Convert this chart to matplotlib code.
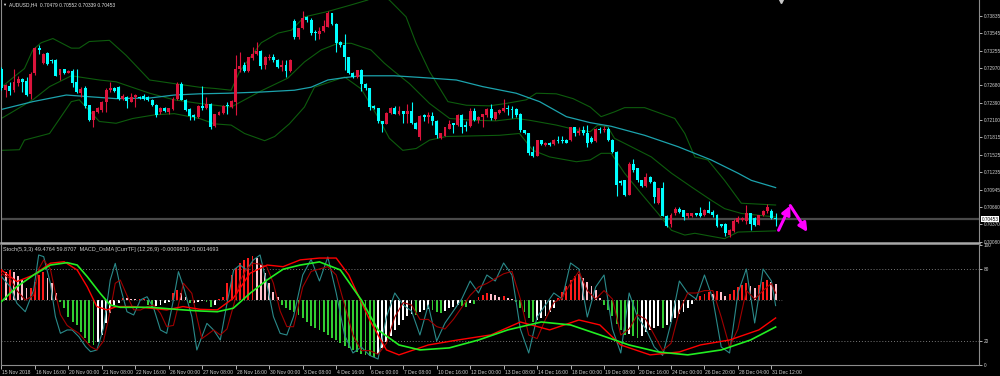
import numpy as np
import matplotlib.pyplot as plt
import matplotlib.transforms as mtransforms

plt.rcParams['font.family'] = ['Liberation Sans', 'DejaVu Sans']

# AUDUSD H4 candles, prices in units of 0.0001
opens = [7296, 7260, 7267, 7261, 7272, 7278, 7275, 7254, 7288, 7330,
         7305, 7322, 7310, 7310, 7285, 7295, 7289, 7292, 7274, 7255,
         7263, 7235, 7210, 7224, 7227, 7241, 7260, 7263, 7265, 7245,
         7249, 7241, 7248, 7249, 7251, 7248, 7244, 7236, 7223, 7230,
         7223, 7229, 7245, 7271, 7244, 7229, 7219, 7215, 7234, 7230,
         7237, 7200, 7219, 7222, 7235, 7232, 7241, 7295, 7302, 7292,
         7313, 7320, 7325, 7302, 7313, 7316, 7311, 7299, 7302, 7292,
         7375, 7348, 7363, 7382, 7377, 7356, 7353, 7358, 7366, 7388,
         7370, 7340, 7335, 7315, 7289, 7282, 7293, 7271, 7263, 7234,
         7230, 7208, 7204, 7222, 7231, 7221, 7225, 7221, 7225, 7206,
         7182, 7219, 7215, 7217, 7209, 7180, 7184, 7196, 7205, 7202,
         7219, 7202, 7200, 7226, 7210, 7215, 7219, 7228, 7212, 7222,
         7226, 7231, 7229, 7228, 7221, 7193, 7188, 7158, 7151, 7177,
         7169, 7173, 7170, 7178, 7178, 7178, 7177, 7198, 7188, 7193,
         7189, 7180, 7175, 7196, 7193, 7196, 7178, 7158, 7109, 7110,
         7086, 7138, 7130, 7110, 7100, 7116, 7108, 7073, 7097, 7051,
         7037, 7055, 7062, 7060, 7050, 7050, 7055, 7055, 7052, 7060,
         7058, 7053, 7037, 7038, 7019, 7026, 7041, 7044, 7043, 7055,
         7048, 7036, 7052, 7059, 7059, 7047.9]
highs = [7299, 7271, 7274, 7296, 7284, 7280, 7282, 7291, 7332, 7335,
         7322, 7324, 7312, 7312, 7296, 7296, 7293, 7296, 7296, 7266,
         7267, 7236, 7226, 7232, 7242, 7263, 7274, 7265, 7267, 7254,
         7250, 7256, 7254, 7251, 7253, 7250, 7245, 7237, 7232, 7232,
         7231, 7248, 7273, 7273, 7245, 7230, 7221, 7236, 7267, 7249,
         7238, 7221, 7225, 7235, 7241, 7244, 7318, 7324, 7307, 7316,
         7332, 7341, 7327, 7317, 7320, 7321, 7312, 7310, 7310, 7312,
         7378, 7364, 7391, 7383, 7380, 7360, 7366, 7376, 7391, 7389,
         7372, 7342, 7353, 7316, 7290, 7294, 7296, 7272, 7264, 7235,
         7231, 7209, 7223, 7232, 7233, 7234, 7226, 7237, 7241, 7207,
         7218, 7221, 7224, 7224, 7210, 7189, 7199, 7210, 7206, 7220,
         7220, 7208, 7230, 7230, 7217, 7221, 7230, 7237, 7224, 7228,
         7245, 7235, 7234, 7231, 7222, 7194, 7189, 7167, 7178, 7178,
         7174, 7174, 7179, 7183, 7184, 7179, 7199, 7199, 7199, 7200,
         7202, 7183, 7197, 7199, 7200, 7198, 7179, 7159, 7111, 7111,
         7140, 7146, 7131, 7111, 7122, 7117, 7109, 7098, 7108, 7052,
         7055, 7066, 7066, 7061, 7056, 7056, 7056, 7066, 7063, 7076,
         7060, 7054, 7038, 7039, 7029, 7045, 7051, 7049, 7069, 7056,
         7049, 7053, 7060, 7070, 7062, 7055.2]
lows = [7261, 7249, 7252, 7257, 7267, 7257, 7250, 7246, 7285, 7321,
        7303, 7302, 7306, 7283, 7277, 7287, 7288, 7266, 7256, 7249,
        7231, 7208, 7199, 7222, 7224, 7224, 7257, 7257, 7244, 7244,
        7231, 7240, 7232, 7245, 7243, 7242, 7233, 7216, 7221, 7224,
        7221, 7227, 7244, 7243, 7226, 7210, 7210, 7213, 7227, 7229,
        7196, 7199, 7218, 7221, 7221, 7230, 7219, 7291, 7291, 7290,
        7311, 7318, 7296, 7296, 7311, 7307, 7297, 7292, 7282, 7291,
        7346, 7346, 7362, 7374, 7352, 7343, 7346, 7357, 7365, 7368,
        7324, 7332, 7294, 7287, 7281, 7281, 7259, 7260, 7227, 7229,
        7206, 7191, 7203, 7221, 7220, 7219, 7205, 7205, 7204, 7195,
        7177, 7208, 7205, 7202, 7180, 7179, 7183, 7196, 7188, 7201,
        7188, 7192, 7199, 7208, 7205, 7199, 7216, 7210, 7211, 7221,
        7224, 7219, 7213, 7216, 7191, 7187, 7152, 7149, 7150, 7169,
        7168, 7168, 7169, 7172, 7172, 7172, 7176, 7183, 7185, 7185,
        7166, 7172, 7174, 7188, 7191, 7176, 7156, 7084, 7103, 7084,
        7085, 7124, 7108, 7099, 7099, 7106, 7072, 7071, 7050, 7032,
        7033, 7052, 7055, 7044, 7047, 7049, 7050, 7049, 7050, 7055,
        7049, 7033, 7033, 7017, 7015, 7024, 7039, 7043, 7038, 7028,
        7034, 7035, 7051, 7055, 7046, 7033.9]
closes = [7263, 7269, 7259, 7274, 7278, 7274, 7252, 7287, 7330, 7327,
          7321, 7303, 7309, 7284, 7295, 7289, 7292, 7272, 7257, 7262,
          7234, 7210, 7225, 7231, 7241, 7261, 7263, 7259, 7246, 7250,
          7242, 7249, 7252, 7247, 7245, 7244, 7235, 7219, 7230, 7226,
          7230, 7246, 7271, 7244, 7227, 7217, 7215, 7234, 7230, 7237,
          7199, 7220, 7224, 7234, 7233, 7242, 7296, 7301, 7292, 7315,
          7320, 7325, 7301, 7316, 7316, 7310, 7299, 7302, 7292, 7311,
          7348, 7363, 7380, 7376, 7355, 7355, 7359, 7367, 7388, 7370,
          7338, 7335, 7315, 7288, 7282, 7293, 7271, 7263, 7232, 7230,
          7208, 7204, 7222, 7231, 7221, 7225, 7221, 7225, 7205, 7196,
          7217, 7216, 7218, 7209, 7185, 7188, 7198, 7204, 7202, 7219,
          7199, 7199, 7226, 7210, 7216, 7220, 7228, 7213, 7223, 7227,
          7231, 7229, 7227, 7219, 7193, 7188, 7156, 7150, 7177, 7170,
          7173, 7169, 7178, 7176, 7176, 7173, 7198, 7188, 7192, 7188,
          7172, 7174, 7196, 7193, 7196, 7177, 7158, 7103, 7105, 7086,
          7138, 7127, 7110, 7100, 7116, 7108, 7083, 7097, 7051, 7034,
          7053, 7062, 7058, 7049, 7055, 7055, 7052, 7050, 7060, 7056,
          7052, 7034, 7034, 7022, 7028, 7043, 7047, 7048, 7055, 7038,
          7036, 7052, 7059, 7066, 7047, 7045.3]

# Bollinger bands and moving average, read at sample bars
bb_up_x = [0, 3.5, 5.5, 7.5, 9.5, 12.3, 16.7, 18.6, 21.0, 25.8, 29.8, 35.4, 41.3, 47.3,
           50.9, 54.9, 56.9, 62.1, 66.1, 69.3, 72.4, 78.0, 83.6, 87.5, 90.0,
           92.7, 96.7, 99.1, 102.3, 106.7, 111.1, 116.6, 120.6, 125.4, 127.8, 132.6, 136.6, 140.7,
           143.3, 146.5, 148.9, 153.7, 157.7, 160.9, 163.3, 165.7, 168.8, 172.8, 176.8, 185]
bb_up_y = [7265, 7285, 7296, 7327, 7339, 7346, 7330, 7330, 7341, 7343, 7318, 7277, 7271, 7265,
           7263, 7260, 7291, 7339, 7355, 7360, 7382, 7391, 7402, 7410, 7420,
           7410, 7382, 7338, 7291, 7241, 7235, 7234, 7238, 7244, 7255, 7254, 7246, 7232,
           7216, 7224, 7231, 7231, 7221, 7213, 7188, 7149, 7144, 7110, 7072, 7069]
bb_mid_x = [0, 7.5, 11.5, 16.7, 23.4, 27.4, 35.4, 41.3, 47.3,
            54.9, 62.1, 68.4, 72.4, 76.4, 80.4, 83.6, 88.3, 91.5, 93.9,
            97.5, 102.3, 107.1, 112.7, 118.2, 123.0, 126.2, 132.6, 137.4, 140.7,
            142.5, 144.9, 146.5, 150.5, 155.3, 160.1, 164.9, 169.6, 172.8, 176.8, 185]
bb_mid_y = [7213, 7244, 7266, 7284, 7277, 7274, 7255, 7244, 7238,
            7232, 7259, 7280, 7307, 7327, 7338, 7338, 7327, 7305, 7291,
            7271, 7238, 7213, 7210, 7209, 7213, 7210, 7202, 7194, 7191,
            7202, 7199, 7180, 7166, 7149, 7122, 7099, 7077, 7063, 7055, 7049]
bb_lo_x = [0, 4.3, 5.5, 11.5, 16.7, 18.6, 23.4, 27.4, 31.4, 36.6, 41.3, 47.3,
           50.9, 54.9, 58.1, 62.9, 65.3, 68.8, 72.4, 74.8, 82.0, 86.0, 90.0, 92.7,
           95.9, 99.1, 102.3, 106.3, 112.7, 119.0, 123.8, 127.0, 131.0, 137.4, 140.7,
           143.3, 145.7, 148.9, 152.9, 156.9, 160.1, 163.3, 165.7, 169.6, 172.8, 176.0, 185]
bb_lo_y = [7160, 7161, 7177, 7188, 7241, 7244, 7208, 7205, 7213, 7219, 7221, 7213,
           7204, 7202, 7188, 7176, 7183, 7204, 7232, 7265, 7282, 7262, 7215, 7180,
           7160, 7163, 7177, 7183, 7184, 7185, 7188, 7160, 7149, 7141, 7144,
           7155, 7155, 7122, 7088, 7055, 7027, 7019, 7022, 7017, 7013, 7024, 7026]
ma_x = [0, 7.5, 15.5, 19.4, 27.4, 35.4, 41.3, 47.3,
        54.1, 62.1, 70.0, 74.0, 78.0, 82.0, 85.9, 93.9,
        100.7, 108.7, 115.0, 123.0, 128.6, 135.0, 140.7,
        145.7, 153.7, 161.7, 169.6, 176.0, 179.2, 185]
ma_y = [7228, 7241, 7252, 7250, 7246, 7247, 7252, 7254,
        7255, 7257, 7260, 7265, 7277, 7281, 7284, 7284,
        7281, 7277, 7266, 7255, 7241, 7216, 7206,
        7200, 7185, 7166, 7144, 7122, 7110, 7098]

# hand drawn zigzag arrows after the last bar
arrow_x = [185.7, 188.5, 192.6]
arrow_y = [7027, 7068, 7024]

# MACD_OsMA (12,26,9), units of 0.00001: histogram per bar, lines at sample bars
osma = [167, 154, 163, 154, 131, 109, 64, 64, 100, 136,
        154, 118, 91, 36, -9, -45, -91, -118, -136, -172,
        -208, -236, -245, -227, -190, -127, -72, -27, -18, 11,
        8, 5, 3, 3, 3, -27, -36, -33, -27, -18,
        -9, 36, 54, 36, 18, -18, -15, -9, -8, -9,
        -36, -27, 5, 18, 91, 136, 172, 200, 218, 227,
        239, 227, 190, 145, 91, 45, 18, -27, -45, -54,
        -65, -82, -98, -120, -141, -152, -163, -174, -190, -207,
        -218, -234, -250, -261, -272, -283, -294, -299, -305, -310,
        -294, -261, -228, -196, -163, -136, -109, -87, -76, -82,
        -65, -54, -49, -54, -65, -71, -60, -44, -38, -27,
        -33, -38, -16, -22, 16, 27, 38, 33, 27, 16,
        22, 11, 5, -11, -44, -65, -98, -120, -109, -98,
        -87, -65, -44, 11, 44, 76, 109, 131, 141, 120,
        98, 76, 54, 11, -27, -54, -87, -131, -163, -190,
        -185, -196, -207, -196, -174, -163, -152, -141, -152, -136,
        -120, -98, -76, -65, -44, -22, 11, 22, 33, 44,
        33, 49, 44, 22, 33, 54, 71, 82, 92, 76,
        65, 82, 98, 109, 98, 87]
macd_x = [0, 3.7, 7.7, 11.7, 15.0, 18.1, 20.5, 22.8, 25.2, 27.6, 31.5, 35.6, 39.5, 43.4, 47.5, 51.6,
          55.4, 59.4, 63.5, 67.3, 71.4, 76, 80, 83, 88, 92, 95, 102, 109, 117, 124, 131, 138,
          143, 148, 155, 162, 167, 174, 181, 185]
macd_y = [163, 100, 136, 200, 208, 163, 72, -36, -54, -36, -36, -45, -54, -36, -51, -54,
          9, 145, 190, 181, 218, 228, 228, 136, -109, -272, -299, -245, -218, -190, -120, -163, -109,
          -136, -245, -299, -283, -245, -218, -163, -98]
signal_x = [0, 3.7, 7.7, 11.7, 15.7, 18.1, 20.5, 23.6, 26.0, 28.4, 35.6, 43.4, 47.5, 51.6,
            55.4, 59.4, 63.5, 67.3, 71.4, 76, 81, 86, 90, 95, 100, 107, 114, 121, 129, 136,
            143, 150, 157, 164, 172, 179, 185]
signal_y = [-9, 72, 136, 190, 203, 190, 127, 36, -27, -40, -40, -54, -60, -64,
            -45, 36, 109, 167, 190, 207, 163, 0, -163, -245, -272, -261, -218, -163, -120, -136,
            -190, -245, -283, -299, -272, -218, -147]

# Stochastic (5,3,3): main and signal at sample bars
stoch_x = [0, 2.1, 3.7, 5.7, 7.7, 8.9, 10.1, 11.7, 12.9, 14.1, 15.7, 16.9, 18.5, 20.1, 21.3, 22.8,
           24.4, 26.0, 27.2, 28.4, 30.0, 31.6, 33.2, 34.8, 36.4, 38.0, 39.5, 41.1, 42.3, 43.5,
           45.5, 46.7, 47.9, 49.1, 50.7, 52.3, 53.9, 55.5, 57.0, 58.6, 60.2, 61.8, 63.4, 65.0,
           66.6, 68.2, 69.8, 72, 74, 76, 78, 80, 82, 84, 86, 88, 90, 92, 94, 96, 98, 100, 102,
           104, 106, 108, 110, 112, 114, 116, 118, 120, 122, 124, 126, 128, 130, 132, 134, 136,
           138, 140, 142, 144, 146, 148, 150, 152, 154, 156, 158, 160, 162, 164, 166, 168, 170,
           172, 174, 176, 178, 180, 182, 184, 185]
stoch_main = [73.6, 65.3, 51.4, 44.4, 62.5, 91.7, 90.3, 68.1, 40.3, 26.4, 29.2, 29.2, 23.6, 15.3, 11.1, 12.5,
              30.6, 70.8, 84.7, 65.3, 44.4, 41.7, 54.2, 56.9, 47.2, 29.2, 26.4, 54.2, 77.8, 65.3,
              40.3, 12.5, 23.6, 34.7, 29.2, 20.8, 51.4, 79.2, 83.3, 79.2, 87.5, 91.7, 68.1, 40.3,
              26.4, 25.0, 40.3, 75, 88, 70, 90, 60, 25, 10, 15, 8, 5, 40, 60, 50, 45, 25, 50,
              20, 35, 45, 55, 70, 60, 75, 70, 85, 75, 30, 10, 40, 50, 60, 55, 85,
              80, 40, 65, 75, 30, 10, 60, 40, 30, 15, 8, 35, 70, 60, 55, 75, 55,
              15, 10, 60, 80, 35, 80, 70, 49.5]
stoch_signal = [76.4, 72.0, 62.0, 54.2, 58.0, 80.0, 87.5, 80.0, 60.0, 42.0, 33.0, 30.0, 26.4, 20.0, 15.3, 12.5,
                20.0, 45.0, 68.1, 70.8, 58.0, 46.0, 45.8, 48.6, 50.0, 43.1, 32.0, 33.0, 50.0, 68.1,
                59.7, 40.0, 22.0, 25.0, 29.2, 25.0, 30.0, 50.0, 70.0, 80.0, 84.7, 84.0, 81.9, 68.1,
                45.0, 32.0, 31.9, 65, 78, 80, 82, 75, 50, 25, 12, 12, 9, 18, 40, 52, 50, 38, 38,
                32, 30, 38, 48, 58, 65, 68, 72, 76, 78, 55, 25, 22, 38, 52, 56, 68,
                78, 62, 55, 62, 55, 25, 30, 42, 38, 25, 12, 18, 45, 60, 60, 62, 62,
                40, 15, 30, 62, 55, 62, 68, 59.9]

price_ticks = [0.73835, 0.73545, 0.73255, 0.72970, 0.72680, 0.72390, 0.72100,
               0.71815, 0.71525, 0.71235, 0.70945, 0.70660, 0.70370, 0.70080]
last_price = 0.70453

time_labels = ['15 Nov 2018', '16 Nov 16:00', '20 Nov 00:00', '21 Nov 08:00', '22 Nov 16:00',
               '26 Nov 00:00', '27 Nov 08:00', '28 Nov 16:00', '30 Nov 00:00', '3 Dec 08:00',
               '4 Dec 16:00', '6 Dec 00:00', '7 Dec 08:00', '10 Dec 16:00', '12 Dec 00:00',
               '13 Dec 08:00', '14 Dec 16:00', '18 Dec 00:00', '19 Dec 08:00', '20 Dec 16:00',
               '24 Dec 00:00', '26 Dec 20:00', '28 Dec 04:00', '31 Dec 12:00']

o = np.array(opens) / 1e4
h = np.array(highs) / 1e4
l = np.array(lows) / 1e4
c = np.array(closes) / 1e4
xs = np.arange(len(c))

fig = plt.figure(figsize=(10, 3.76), dpi=100, facecolor='black')
ax = fig.add_axes([0.001, 1 - 243 / 376, 0.978, 243 / 376])
ax2 = fig.add_axes([0.001, 11 / 376, 0.978, 120 / 376])
# MACD overlay keeps its own scale, zero level sits a bit above the middle
ax3 = ax2.twinx()

grey = '#8c8c8c'
for a in (ax, ax2):
    a.set_facecolor('black')
    a.set_xlim(-0.1, 233.6)
    a.spines['top'].set_visible(False)
    a.spines['left'].set_color(grey)
    a.spines['right'].set_color(grey)
    a.spines['left'].set_linewidth(0.8)
    a.spines['right'].set_linewidth(0.8)
ax.spines['bottom'].set_color('#a8a8a8')
ax.spines['bottom'].set_linewidth(1.8)
ax2.spines['bottom'].set_color(grey)
ax2.spines['bottom'].set_linewidth(0.8)

# main chart
ax.set_ylim(0.70058, 0.74101)
ax.axhline(last_price, color='#4a4a4a', lw=1.6, zorder=1)

bb_col = '#0d5c0d'
ax.plot(bb_up_x, np.array(bb_up_y) / 1e4, color=bb_col, lw=0.8, zorder=2)
ax.plot(bb_mid_x, np.array(bb_mid_y) / 1e4, color=bb_col, lw=0.8, zorder=2)
ax.plot(bb_lo_x, np.array(bb_lo_y) / 1e4, color=bb_col, lw=0.8, zorder=2)
ax.plot(ma_x, np.array(ma_y) / 1e4, color='#1ca3ad', lw=0.9, zorder=2)

col = np.where(c >= o, '#dc143c', '#00ffff')
ax.vlines(xs, l, h, colors=col, lw=0.8, zorder=3)
body = np.maximum(np.abs(c - o), 0.00012)
ax.bar(xs, body, bottom=np.minimum(o, c), width=0.7, color=col, lw=0, zorder=4)

for i in range(2):
    ax.annotate('', xy=(arrow_x[i + 1], arrow_y[i + 1] / 1e4), xytext=(arrow_x[i], arrow_y[i] / 1e4),
                arrowprops=dict(arrowstyle='-|>,head_length=0.5,head_width=0.25',
                                color='#ff00ff', lw=2.2, shrinkA=0, shrinkB=0), zorder=5)
ax.plot([186.4], [0.7408], marker='v', color='#c8c8c8', ms=3, clip_on=False)

ax.set_xticks([])
ax.yaxis.tick_right()
ax.set_yticks(price_ticks)
ax.set_yticklabels([f'{p:.5f}' for p in price_ticks])
ax.tick_params(axis='y', labelsize=3.4, colors='#cfcfcf', length=2.5, width=0.6, pad=0.8)
ax.text(1.0028, last_price, f'{last_price:.5f}',
        transform=mtransforms.blended_transform_factory(ax.transAxes, ax.transData),
        fontsize=3.4, color='black', va='center', ha='left',
        bbox=dict(boxstyle='square,pad=0.15', fc='white', ec='none'))

# sub window: stochastic + MACD_OsMA
ax2.set_ylim(0, 100)
for lev in (80, 20):
    ax2.axhline(lev, color='#777777', ls=(0, (1, 2)), lw=0.7)
ax2.yaxis.tick_right()
ax2.set_yticks([100, 80, 20, 0])
ax2.set_yticklabels(['100', '80', '20', '0'])
ax2.tick_params(axis='y', which='both', left=False, labelleft=False, right=True, labelright=True,
                labelsize=3.4, colors='#cfcfcf', length=2.5, width=0.6, pad=0.8)

ax3.set_ylim(-354, 299)
ax3.set_xlim(-0.1, 233.6)
ax3.axis('off')
ax3.axhline(0, color='#6a6a6a', ls=(0, (1, 2)), lw=0.6, xmin=0, xmax=0.8)

osma_arr = np.array(osma, dtype=float)
prev = np.concatenate([[osma_arr[0]], osma_arr[:-1]])
hist_col = np.where(osma_arr >= 0,
                    np.where(osma_arr >= prev, '#ff1a1a', '#ffc0cb'),
                    np.where(osma_arr <= prev, '#32cd32', '#ffffff'))
ax3.bar(xs, osma_arr, width=0.45, color=hist_col, lw=0, zorder=1)
# stochastic drawn on the overlay in its 0..100 frame
stoch_to_ax3 = lambda v: np.array(v) * 6.53 - 354
ax3.plot(stoch_x, stoch_to_ax3(stoch_main), color='#2a8a8a', lw=0.8, zorder=2)
ax3.plot(stoch_x, stoch_to_ax3(stoch_signal), color='#a00000', lw=0.8, zorder=2)
ax3.plot(macd_x, macd_y, color='#ff0000', lw=1.0, zorder=3)
ax3.plot(signal_x, signal_y, color='#22ee22', lw=1.2, zorder=3)

ax2.set_xticks(np.arange(0, 185, 8))
ax2.set_xticklabels(time_labels)
ax2.tick_params(axis='x', labelsize=3.6, colors='#cfcfcf', length=3, width=0.6, pad=0.5)
shift = mtransforms.ScaledTranslation(1 / 100, 0, fig.dpi_scale_trans)
for lbl in ax2.get_xticklabels():
    lbl.set_ha('left')
    lbl.set_transform(lbl.get_transform() + shift)

fig.text(0.009, 1 - 4.5 / 376, 'AUDUSD,H4  0.70479 0.70552 0.70339 0.70453',
         color='#e6e6e6', fontsize=3.5, va='center')
fig.text(0.002, 1 - 4.5 / 376, '\u25bc', color='#e6e6e6', fontsize=3, va='center')
fig.text(0.003, 1 - 249 / 376, 'Stoch(5,3,3) 49.4764 59.8707  MACD_OsMA [CurrTF] (12,26,9) -0.0009819 -0.0014693',
         color='#cfcfcf', fontsize=4.0, va='center')

fig.savefig('out.png', dpi=100, facecolor='black')
